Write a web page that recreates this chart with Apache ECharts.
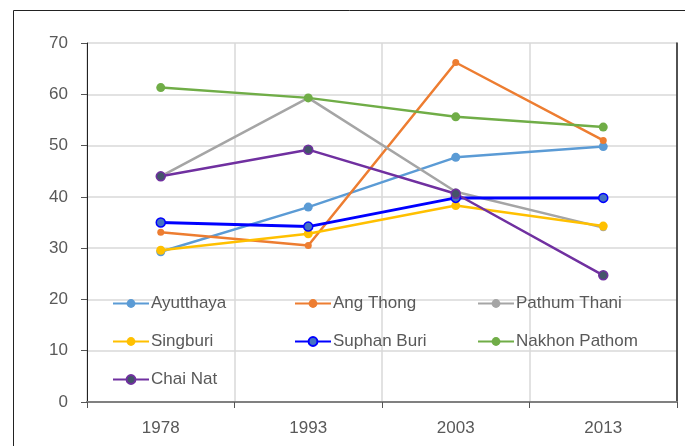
<!DOCTYPE html>
<html>
<head>
<meta charset="utf-8">
<style>
  html, body { margin: 0; padding: 0; background: #fff; }
  #chart { width: 685px; height: 446px; }
</style>
<script src="https://cdn.jsdelivr.net/npm/echarts@6/dist/echarts.min.js"></script>
</head>
<body>
<div id="chart"></div>
<script>
const years = ['1978', '1993', '2003', '2013']

const ayutthaya = [29.3, 38.0, 47.7, 49.8]
const angThong = [33.1, 30.5, 66.2, 51.0]
const pathumThani = [44.0, 59.3, 41.0, 34.0]
const singburi = [29.6, 32.8, 38.3, 34.3]
const suphanBuri = [35.0, 34.2, 39.8, 39.8]
const nakhonPathom = [61.3, 59.3, 55.6, 53.6]
const chaiNat = [44.0, 49.2, 40.6, 24.7]

const font = 'Liberation Sans'
const textGray = '#595959'

const makeSeries = (name, data, color, fill, size, width) => ({
  name,
  type: 'line',
  data,
  symbol: 'circle',
  symbolSize: size || 9,
  lineStyle: { color, width: width || 2.5 },
  itemStyle: { color: fill || color, borderColor: color, borderWidth: fill ? 1.5 : 0 },
  emphasis: { disabled: true }
})

const legendBase = {
  orient: 'vertical',
  top: 290,
  itemGap: 21,
  itemWidth: 36,
  itemHeight: 11,
  textStyle: { fontFamily: font, fontSize: 17, color: textGray, padding: [0, 0, 0, -3] }
}

const chart = echarts.init(document.getElementById('chart'))
chart.setOption({
  animation: false,
  textStyle: { fontFamily: font },
  grid: { left: 87, top: 43, right: 8, bottom: 44 },
  graphic: [{
    type: 'rect',
    shape: { x: 13.5, y: 10.5, width: 700, height: 500 },
    style: { fill: 'none', stroke: '#222', lineWidth: 1 },
    silent: true
  }],
  legend: [
    Object.assign({}, legendBase, { left: 107, data: ['Ayutthaya', 'Singburi', 'Chai Nat'] }),
    Object.assign({}, legendBase, { left: 289, data: ['Ang Thong', 'Suphan Buri'] }),
    Object.assign({}, legendBase, { left: 472, data: ['Pathum Thani', 'Nakhon Pathom'] })
  ],
  xAxis: [{
    type: 'category',
    data: years,
    boundaryGap: true,
    axisLine: { lineStyle: { color: '#868686', width: 1.5 } },
    axisTick: { show: true, length: 6, lineStyle: { color: '#555' } },
    axisLabel: { fontFamily: font, fontSize: 17, color: textGray, margin: 18 },
    splitLine: { show: true, lineStyle: { color: '#d9d9d9', width: 1.5 } }
  }, {
    type: 'category',
    data: years,
    position: 'top',
    axisLine: { lineStyle: { color: '#808080', width: 2 } },
    axisTick: { show: false },
    axisLabel: { show: false }
  }],
  yAxis: [{
    type: 'value',
    min: 0,
    max: 70,
    interval: 10,
    axisLine: { show: true, lineStyle: { color: '#222', width: 1 } },
    axisTick: { show: true, length: 6, lineStyle: { color: '#555' } },
    axisLabel: { fontFamily: font, fontSize: 17, color: textGray, margin: 19 },
    splitLine: { show: true, lineStyle: { color: '#d9d9d9', width: 1.5 } }
  }, {
    type: 'value',
    min: 0,
    max: 70,
    interval: 10,
    position: 'right',
    axisLine: { show: true, lineStyle: { color: '#222', width: 1.5 } },
    axisTick: { show: false },
    axisLabel: { show: false },
    splitLine: { show: false }
  }],
  series: [
    makeSeries('Ayutthaya', ayutthaya, '#5B9BD5'),
    makeSeries('Ang Thong', angThong, '#ED7D31', null, 7),
    makeSeries('Pathum Thani', pathumThani, '#A5A5A5', null, 7),
    makeSeries('Singburi', singburi, '#FFC000'),
    makeSeries('Suphan Buri', suphanBuri, '#0000FF', '#4472C4', 9, 3),
    makeSeries('Nakhon Pathom', nakhonPathom, '#70AD47'),
    makeSeries('Chai Nat', chaiNat, '#7030A0', '#44546A')
  ]
})

window.addEventListener('resize', () => chart.resize())
</script>
</body>
</html>
